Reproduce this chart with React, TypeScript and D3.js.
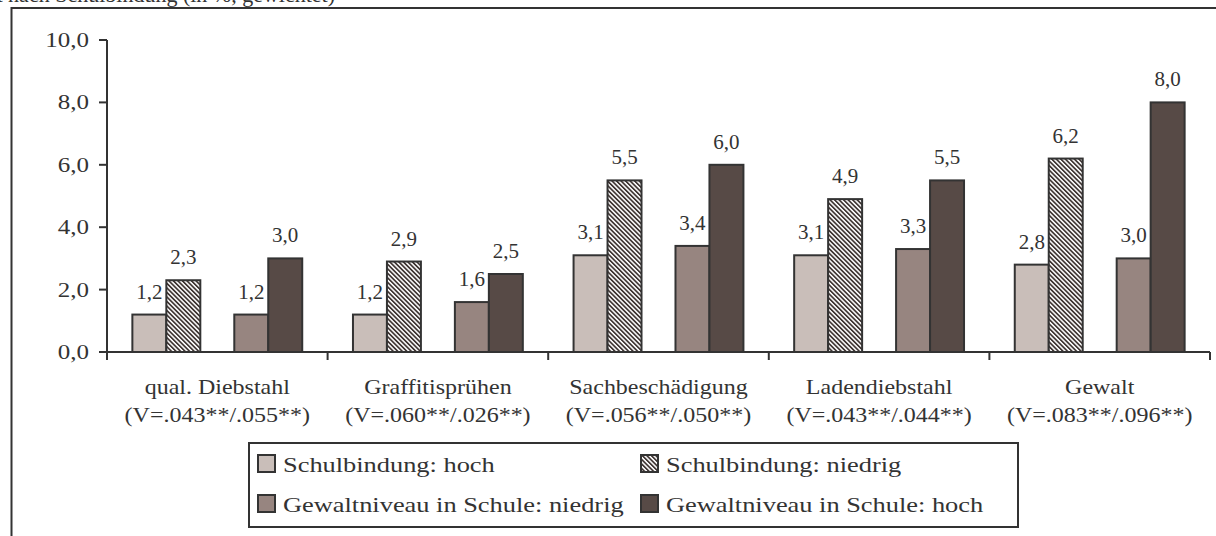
import * as d3 from "d3";

const WIDTH = 1216;
const HEIGHT = 536;

const CATEGORIES = ["qual. Diebstahl", "Graffitisprühen", "Sachbeschädigung", "Ladendiebstahl", "Gewalt"];
const V_LABELS = ["(V=.043**/.055**)", "(V=.060**/.026**)", "(V=.056**/.050**)", "(V=.043**/.044**)", "(V=.083**/.096**)"];

const SCHULBINDUNG_HOCH = [1.2, 1.2, 3.1, 3.1, 2.8];
const SCHULBINDUNG_NIEDRIG = [2.3, 2.9, 5.5, 4.9, 6.2];
const GEWALT_NIEDRIG = [1.2, 1.6, 3.4, 3.3, 3.0];
const GEWALT_HOCH = [3.0, 2.5, 6.0, 5.5, 8.0];

const Y_TICKS = [0, 2, 4, 6, 8, 10];

const SERIES = [
  { name: "Schulbindung: hoch", values: SCHULBINDUNG_HOCH, fill: "#c9beb9", slot: 0 },
  { name: "Schulbindung: niedrig", values: SCHULBINDUNG_NIEDRIG, fill: "url(#hatch)", slot: 1 },
  { name: "Gewaltniveau in Schule: niedrig", values: GEWALT_NIEDRIG, fill: "#978580", slot: 3 },
  { name: "Gewaltniveau in Schule: hoch", values: GEWALT_HOCH, fill: "#574a46", slot: 4 },
];

const INK = "#333333";
const FONT = "'Liberation Serif', 'Times New Roman', serif";

// the picture is stretched sideways, so text gets a horizontal scale
const Txt = ({ x, y, sx = 1.2, size = 20, anchor = "middle", children }: any) => (
  <text
    transform={`translate(${x},${y}) scale(${sx},1)`}
    fontSize={size}
    textAnchor={anchor}
    fill={INK}
    fontFamily={FONT}
  >
    {children}
  </text>
);

export default function App() {
  const x0 = 107;
  const x1 = 1210;
  const xScale = d3.scaleBand<string>().domain(CATEGORIES).range([x0, x1]).padding(0);
  const step = xScale.bandwidth();
  const inner = d3
    .scaleBand<number>()
    .domain([0, 1, 2, 3, 4])
    .range([step * 0.115, step * 0.885])
    .padding(0);
  const yScale = d3.scaleLinear().domain([0, 10]).range([352, 40]);
  const fmt = (v: number) => v.toFixed(1).replace(".", ",");

  const boundaries = d3.range(CATEGORIES.length + 1).map((i) => x0 + i * step);

  return (
    <svg
      width={WIDTH}
      height={HEIGHT}
      style={{ position: "absolute", left: 0, top: 0, background: "#fff" }}
    >
      <defs>
        <pattern id="hatch" width={3.2} height={3.2} patternUnits="userSpaceOnUse" patternTransform="rotate(-45)">
          <rect width={3.2} height={3.2} fill="#fff" />
          <rect width={1.7} height={3.2} fill="#3f3533" />
        </pattern>
      </defs>

      {/* title, cut off at the top edge of the picture */}
      <Txt x={335} y={1.5} anchor="end" size={22} sx={1.0}>
        Täterschaft nach Schulbindung (in %, gewichtet)
      </Txt>

      {/* outer frame, only top and left visible */}
      <path d={`M11.5,${HEIGHT} L11.5,8 L${WIDTH},8`} fill="none" stroke={INK} strokeWidth={2} />

      {/* bars */}
      {SERIES.map((s) =>
        s.values.map((v, i) => {
          const bx = (xScale(CATEGORIES[i]) as number) + (inner(s.slot) as number);
          const bw = inner.bandwidth();
          return (
            <g key={s.name + i}>
              <rect
                x={bx}
                y={yScale(v)}
                width={bw}
                height={yScale(0) - yScale(v)}
                fill={s.fill}
                stroke={INK}
                strokeWidth={2}
              />
              <Txt x={bx + bw / 2} y={yScale(v) - 16} sx={1.05}>
                {fmt(v)}
              </Txt>
            </g>
          );
        })
      )}

      {/* y axis */}
      <line x1={x0} x2={x0} y1={yScale(10)} y2={yScale(0) + 8} stroke={INK} strokeWidth={2} />
      {Y_TICKS.map((t) => (
        <g key={t}>
          <line x1={x0 - 8} x2={x0} y1={yScale(t)} y2={yScale(t)} stroke={INK} strokeWidth={2} />
          <Txt x={89} y={yScale(t) + 7} anchor="end" sx={1.25}>
            {fmt(t)}
          </Txt>
        </g>
      ))}

      {/* x axis */}
      <line x1={x0} x2={x1} y1={yScale(0)} y2={yScale(0)} stroke={INK} strokeWidth={2} />
      {boundaries.map((b, i) => (
        <line key={i} x1={b} x2={b} y1={yScale(0)} y2={yScale(0) + 8} stroke={INK} strokeWidth={2} />
      ))}
      {CATEGORIES.map((c, i) => {
        const cx = (xScale(c) as number) + step / 2;
        return (
          <g key={c}>
            <Txt x={cx} y={394}>{c}</Txt>
            <Txt x={cx} y={422}>{V_LABELS[i]}</Txt>
          </g>
        );
      })}

      {/* legend */}
      <rect x={249} y={443} width={769} height={84} fill="#fff" stroke={INK} strokeWidth={2} />
      {SERIES.map((s, i) => {
        const lx = i % 2 === 0 ? 258 : 641;
        const ly = i < 2 ? 455 : 495;
        return (
          <g key={s.name}>
            <rect x={lx} y={ly} width={17} height={17} fill={s.fill} stroke={INK} strokeWidth={2} />
            <Txt x={lx + 25} y={ly + 17} anchor="start" size={22} sx={1.2}>
              {s.name}
            </Txt>
          </g>
        );
      })}
    </svg>
  );
}
